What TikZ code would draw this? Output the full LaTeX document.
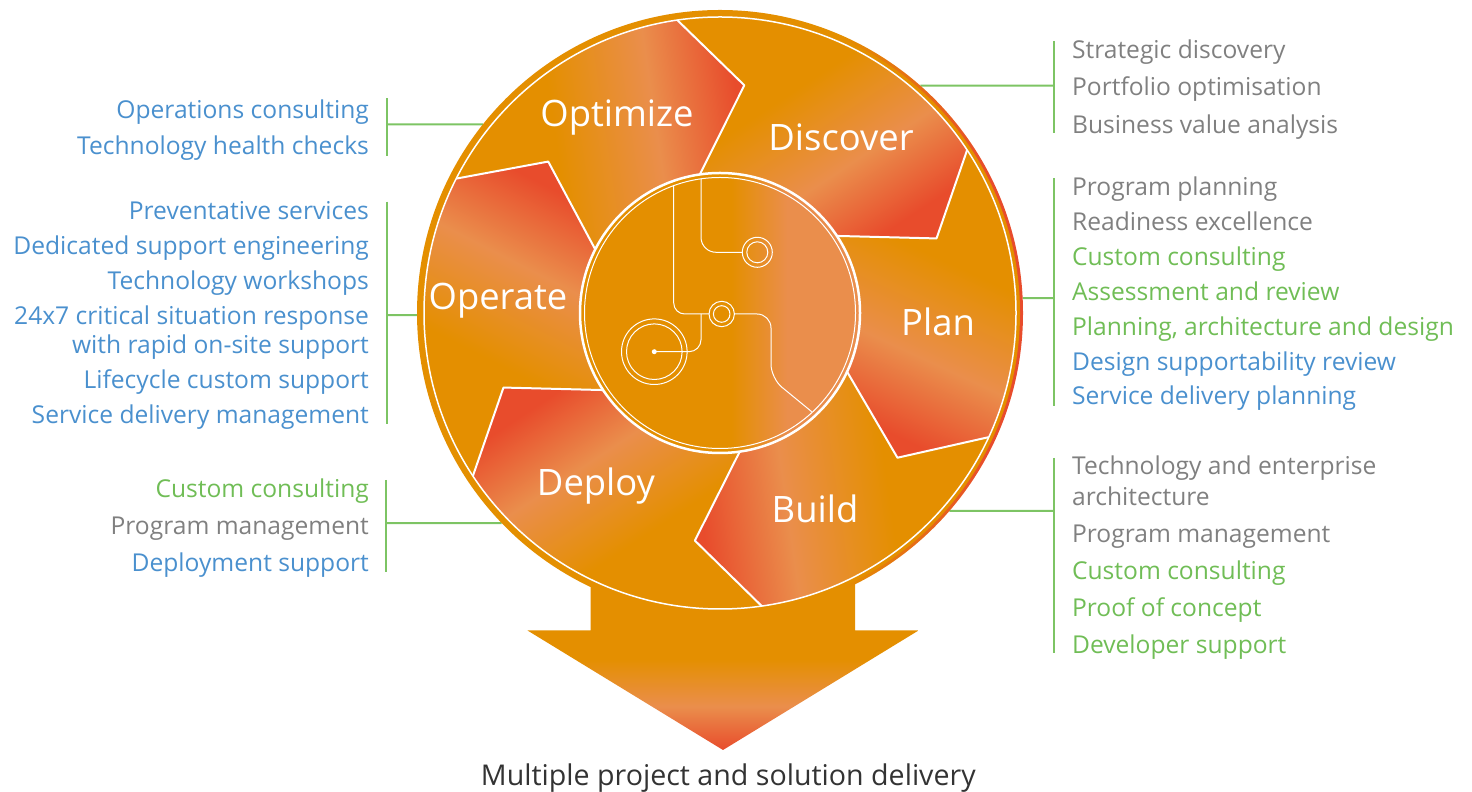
\documentclass[tikz,border=0pt]{standalone}
\usepackage{fontspec}
\setmainfont{Open Sans}
\definecolor{wheelorange}{RGB}{228,143,0}
\definecolor{wheelsalmon}{RGB}{234,142,76}
\definecolor{wheelred}{RGB}{232,76,44}
\definecolor{txtblue}{RGB}{74,144,206}
\definecolor{txtgray}{RGB}{128,128,128}
\definecolor{txtgreen}{RGB}{112,189,86}
\definecolor{linegreen}{RGB}{125,196,100}
\pgfdeclarehorizontalshading{chevron}{100bp}{color(0bp)=(wheelorange); color(25bp)=(wheelorange); color(42bp)=(wheelorange); color(60bp)=(wheelsalmon); color(75bp)=(wheelred); color(100bp)=(wheelred)}
\pgfdeclarehorizontalshading{hub}{100bp}{color(0bp)=(wheelorange); color(52bp)=(wheelorange); color(62bp)=(wheelsalmon); color(100bp)=(wheelsalmon)}
\pgfdeclarehorizontalshading{rim}{100bp}{color(0bp)=(wheelorange); color(60bp)=(wheelorange); color(72bp)=(wheelred); color(100bp)=(wheelred)}
\pgfdeclareverticalshading{downarrow}{100bp}{color(0bp)=(wheelred); color(25bp)=(wheelred); color(36bp)=(wheelsalmon); color(48bp)=(wheelorange); color(100bp)=(wheelorange)}
\tikzset{
  stage/.style={text=white, font=\fontsize{18.2}{22}\selectfont, inner sep=0pt},
  items/.style={font=\fontsize{12.3}{#1}\selectfont, inner sep=0pt},
  bracket/.style={draw=linegreen, line width=1pt},
  circuit/.style={draw=white, line width=0.5pt},
}
\begin{document}
\begin{tikzpicture}[x=0.5pt, y=0.5pt, line join=round]
    \useasboundingbox (0,0) rectangle (1472,792);
    %brackets
    \coordinate (optimizeTop) at (387,693.7);  \coordinate (optimizeBot) at (387,636.3);  \coordinate (optimizeJoin) at (387,667.6);
    \coordinate (operateTop) at (387,590.3);   \coordinate (operateBot) at (387,367.7);   \coordinate (operateJoin) at (387,476.9);
    \coordinate (deployTop) at (386,312);      \coordinate (deployBot) at (386,220.3);    \coordinate (deployJoin) at (386,268.9);
    \coordinate (discoverTop) at (1054.3,751); \coordinate (discoverBot) at (1054.3,658.7); \coordinate (discoverJoin) at (1054.3,706.3);
    \coordinate (planTop) at (1054.3,613.7);   \coordinate (planBot) at (1054.3,386.3);   \coordinate (planJoin) at (1054.3,493.8);
    \coordinate (buildTop) at (1054.3,334);    \coordinate (buildBot) at (1054.3,139);    \coordinate (buildJoin) at (1054.3,281);
    \begin{scope}[shift={(720,479)}]
        \coordinate (optimizeRim) at (141.5:303);
        \coordinate (operateRim) at (180.4:303);
        \coordinate (deployRim) at (223.9:303);
        \coordinate (discoverRim) at (48.6:303);
        \coordinate (planRim) at (2.8:303);
        \coordinate (buildRim) at (-40.8:303);
    \end{scope}
    \foreach \g in {optimize,operate,deploy,discover,plan,build}{
        \draw[bracket] (\g Top) -- (\g Bot);
        \draw[bracket] (\g Join) -- (\g Rim);
    }
    %arrow
    \shade[shading=downarrow] (590.5,240)--(855,240)--(855,161.5)--(918.5,161.5)--(723,42)--(527.5,161.5)--(590.5,161.5)--cycle;
    %wheel
    \begin{scope}[shift={(720,479)}]
        \shade[shading=rim] (0,0) circle (303);
        \fill[wheelorange] (0,0) circle (300);
        \foreach \a/\b in {153/98.3, 98.3/33.4, 33.4/-24.8, -24.8/-81.9, -81.9/-146.6, 213.4/153}{
            \pgfmathsetmacro\ang{\b-90}
            \shade[shading=chevron, shading angle=\ang] (\a:296) arc[start angle=\a, end angle=\b, radius=296]
                -- (\b-14.4:229) -- (\b:140) arc[start angle=\b, end angle=\a, radius=140]
                -- (\a-14.4:229) -- cycle;
        }
        \foreach \b in {98.3,33.4,-24.8,-81.9,-146.6,153}
            \draw[white, line width=1pt] (\b:296) -- (\b-14.4:229) -- (\b:140);
        \draw[white, line width=0.75pt] (0,0) circle (296);
        %hub
        \shade[shading=hub] (0,0) circle (140);
        \draw[white, line width=1.25pt] (0,0) circle (140);
        \draw[white, line width=0.5pt] (0,0) circle (135.5);
        \draw[circuit, rounded corners=7.5pt] (-19,134) -- (-19,60.7) -- (22.3,60.7);
        \draw[circuit] (37.3,60.7) circle (15) (37.3,60.7) circle (10.5);
        \draw[circuit, rounded corners=5.5pt] (-46.3,127) -- (-46.3,-1) -- (-10.7,-1);
        \draw[circuit] (1.7,-1) circle (12.7) (1.7,-1) circle (8.3);
        \draw[circuit, rounded corners=7pt] (14.3,-1) -- (51,-1) -- (51,-65.3) -- (91.7,-98.7);
        \draw[circuit, rounded corners=6pt] (-19,-1) -- (-19,-38.7) -- (-65.7,-38.7);
        \draw[circuit] (-65.7,-38.7) circle (32.8) (-65.7,-38.7) circle (27.8);
        \fill[white] (-65.7,-38.7) circle (2.5);
    \end{scope}
    %stage names
    \node[stage] (optimize) at (617,674) {Optimize};
    \node[stage] (discover) at (841,655) {Discover};
    \node[stage] (plan) at (938,470) {Plan};
    \node[stage] (build) at (815,283) {Build};
    \node[stage] (deploy) at (596,306) {Deploy};
    \node[stage] (operate) at (498,491) {Operate};
    %lists
    \node[items=18.25pt, align=right, anchor=base east, text=txtblue] (optimizeList) at (369.3,637)
        {Operations consulting\\Technology health checks};
    \node[items=17.5pt, align=right, anchor=base east, text=txtblue] (operateList) at (369.3,368.7)
        {Preventative services\\Dedicated support engineering\\Technology workshops\\24x7 critical situation response\\[-3pt]with rapid on-site support\\Lifecycle custom support\\Service delivery management};
    \node[items=18.65pt, align=right, anchor=base east] (deployList) at (369.3,220.3)
        {\color{txtgreen}Custom consulting\\\color{txtgray}Program management\\\color{txtblue}Deployment support};
    \node[items=18.75pt, align=left, anchor=base west, text=txtgray] (discoverList) at (1071.7,658.7)
        {Strategic discovery\\Portfolio optimisation\\Business value analysis};
    \node[items=17.45pt, align=left, anchor=base west] (planList) at (1071.7,387)
        {\color{txtgray}Program planning\\\color{txtgray}Readiness excellence\\\color{txtgreen}Custom consulting\\\color{txtgreen}Assessment and review\\\color{txtgreen}Planning, architecture and design\\\color{txtblue}Design supportability review\\\color{txtblue}Service delivery planning};
    \node[items=18.5pt, align=left, anchor=base west] (buildList) at (1071.7,138)
        {\color{txtgray}Technology and enterprise\\[-2.8pt]\color{txtgray}architecture\\\color{txtgray}Program management\\\color{txtgreen}Custom consulting\\\color{txtgreen}Proof of concept\\\color{txtgreen}Developer support};
    \node[anchor=base, font=\fontsize{14.3}{16}\selectfont, text=black!80, inner sep=0pt] (delivery) at (728.3,6.3) {Multiple project and solution delivery};
\end{tikzpicture}
\end{document}
